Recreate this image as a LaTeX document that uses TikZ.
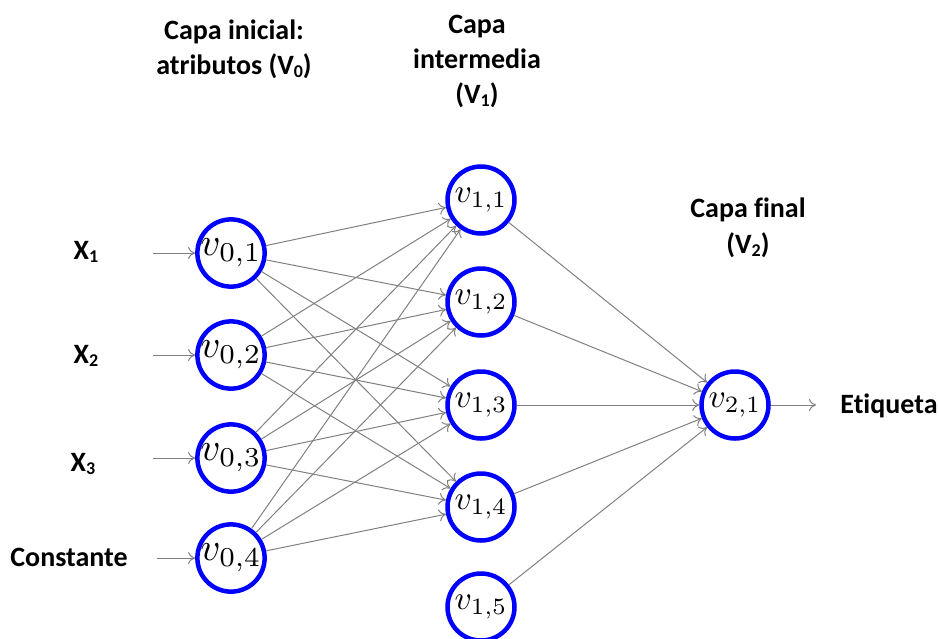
\documentclass[tikz,border=0pt]{standalone}
\usepackage{fontspec}
\setmainfont{Carlito}[Ligatures={NoCommon}]
\usetikzlibrary{arrows.meta}
\newcommand{\lowsub}[1]{\raisebox{-0.28ex}{\fontsize{18}{18}\selectfont #1}}
% neuron labels: large on the input layer, a little smaller further on
\newcommand{\nv}[1]{\scalebox{3.9}{$v_{#1}$}}
\newcommand{\nw}[1]{\scalebox{3.35}{$v_{#1}$}}
\begin{document}
\begin{tikzpicture}[x=1pt,y=-1pt,
  neuron/.style={circle,draw=blue,line width=4.5pt,minimum size=67pt,inner sep=0pt},
  caption/.style={font=\fontsize{28}{32}\selectfont\bfseries,inner sep=0pt,anchor=base},
  link/.style={draw=gray,line width=1pt,-{To[length=7pt,width=12pt]}},
]
\useasboundingbox (0,0) rectangle (939,638);

% input layer
\node[neuron] (a1) at (231,253) {\nv{0,1}};
\node[neuron] (a2) at (231,355) {\nv{0,2}};
\node[neuron] (a3) at (231,458) {\nv{0,3}};
\node[neuron] (a4) at (231,558) {\nv{0,4}};

% hidden layer
\node[neuron] (h1) at (481,200) {\nw{1,1}};
\node[neuron] (h2) at (481,302) {\nw{1,2}};
\node[neuron] (h3) at (481,405) {\nw{1,3}};
\node[neuron] (h4) at (481,507) {\nw{1,4}};
\node[neuron] (h5) at (481,607) {\nw{1,5}};

% output layer
\node[neuron] (o1) at (735,405) {\nw{2,1}};

% input labels
\node[caption] (x1) at (86,259) {X\lowsub{1}};
\node[caption] (x2) at (86,363) {X\lowsub{2}};
\node[caption] (x3) at (83,471) {X\lowsub{3}};
\node[caption] (x4) at (69,566) {Constante};
\node[caption] (et) at (889,413) {Etiqueta};

% layer titles
\node[caption] (t1) at (234,39) {Capa inicial:};
\node[caption] (t2) at (234,74) {atributos (V\lowsub{0})};
\node[caption] (t3) at (477,33) {Capa};
\node[caption] (t4) at (477,68) {intermedia};
\node[caption] (t5) at (477,103) {(V\lowsub{1})};
\node[caption] (t6) at (748,217) {Capa final};
\node[caption] (t7) at (748,253) {(V\lowsub{2})};

% input arrows
\coordinate (i1) at (153,253);
\coordinate (i2) at (153,355);
\coordinate (i3) at (153,458);
\coordinate (i4) at (157,558);
\foreach \k in {1,...,4} \draw[link] (i\k) -- (a\k);

% input to hidden
\foreach \i in {1,...,4}
  \foreach \j in {1,...,4}
    \draw[link] (a\i) -- (h\j);

% hidden to output
\foreach \j in {1,...,5} \draw[link] (h\j) -- (o1);

% output arrow
\coordinate (oe) at (816,405);
\draw[link] (o1) -- (oe);
\end{tikzpicture}
\end{document}
